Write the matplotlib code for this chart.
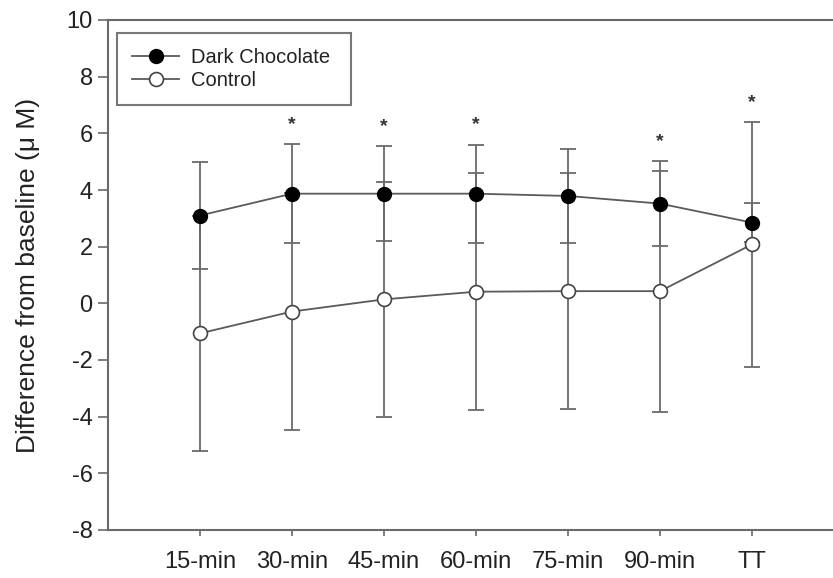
import matplotlib
matplotlib.use("Agg")
import matplotlib.pyplot as plt
import numpy as np

# time points along the x axis
labels = ["15-min", "30-min", "45-min", "60-min", "75-min", "90-min", "TT"]

# means and SDs
dark_mean = [3.10, 3.87, 3.87, 3.87, 3.79, 3.52, 2.85]
dark_sd = [1.89, 1.74, 1.68, 1.73, 1.65, 1.49, 0.68]
ctrl_mean = [-1.06, -0.29, 0.14, 0.41, 0.43, 0.43, 2.08]
ctrl_sd = [4.15, 4.18, 4.16, 4.19, 4.16, 4.25, 4.33]

# which time points got a significance star
significant = [False, True, True, True, False, True, True]

plt.rcParams["font.family"] = ["Liberation Sans", "DejaVu Sans"]
plt.rcParams["axes.unicode_minus"] = False

dpi = 100
fig = plt.figure(figsize=(833 / dpi, 578 / dpi), dpi=dpi)
ax = fig.add_axes([108 / 833, 48 / 578, 736 / 833, 510 / 578])

x = np.arange(1, len(labels) + 1)
line_col = "#5a5a5a"
bar_col = "#6a6a6a"

ax.errorbar(x, ctrl_mean, yerr=ctrl_sd, fmt="none", ecolor=bar_col,
            elinewidth=1.3, capsize=5.5, capthick=1.3, zorder=1)
ax.errorbar(x, dark_mean, yerr=dark_sd, fmt="none", ecolor=bar_col,
            elinewidth=1.3, capsize=5.5, capthick=1.3, zorder=1)

ax.plot(x, dark_mean, "-o", color=line_col, lw=1.3, markersize=10,
        markerfacecolor="black", markeredgecolor="black", label="Dark Chocolate ", zorder=3)
ax.plot(x, ctrl_mean, "-o", color=line_col, lw=1.3, markersize=10,
        markerfacecolor="white", markeredgecolor="#444444", markeredgewidth=1.2,
        label="Control", zorder=3)

# stars above the highest error bar cap
for xi, flag, dm, ds, cm, cs in zip(x, significant, dark_mean, dark_sd, ctrl_mean, ctrl_sd):
    if flag:
        top = max(dm + ds, cm + cs)
        ax.annotate("*", (xi, top), xytext=(0, 8), textcoords="offset points",
                    ha="center", va="bottom", fontsize=14, fontweight="bold", color="#333333")

ax.set_xlim(0, 8)
ax.set_ylim(-8, 10)
ax.set_yticks(np.arange(-8, 11, 2))
ax.set_xticks(x)
ax.set_xticklabels(labels)

for sp in ax.spines.values():
    sp.set_color(bar_col)
    sp.set_linewidth(1.5)
ax.spines["right"].set_visible(False)

ax.tick_params(axis="y", direction="out", length=7, width=1.2, colors=bar_col,
               labelcolor="#222222", labelsize=17, pad=4)
ax.tick_params(axis="x", direction="out", length=4, width=1.2, colors=bar_col,
               labelcolor="#222222", labelsize=17, pad=11)

ax.set_ylabel("Difference from baseline (\u03bc M)", fontsize=19, color="#222222")
ax.yaxis.set_label_coords(-0.092, 0.5)

leg = ax.legend(loc="upper left", bbox_to_anchor=(0.0122, 0.9745), frameon=True, fancybox=False,
                fontsize=14.5, handlelength=2.35, borderpad=0.75, labelspacing=0.2,
                borderaxespad=0, handletextpad=0.6)
leg.get_frame().set_edgecolor("#555555")
leg.get_frame().set_linewidth(1.5)
for t in leg.get_texts():
    t.set_color("#222222")

fig.savefig("out.png", dpi=dpi)
